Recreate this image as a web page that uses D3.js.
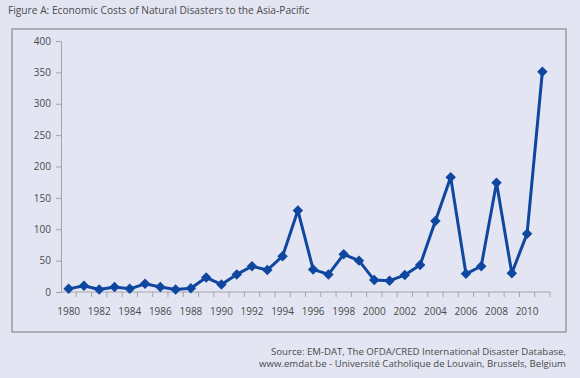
<!DOCTYPE html>
<meta charset="utf-8">
<head>
<style>
  body { margin: 0; background-color: #e3e5f2; font-family: 'Open Sans', sans-serif; }
  svg text { fill: #4a4a4a; }
</style>
</head>
<body>
<div id="chart"></div>
<script src="https://d3js.org/d3.v7.min.js"></script>
<script>

// data (US$ billion)
var years = [1980, 1981, 1982, 1983, 1984, 1985, 1986, 1987, 1988, 1989,
             1990, 1991, 1992, 1993, 1994, 1995, 1996, 1997, 1998, 1999,
             2000, 2001, 2002, 2003, 2004, 2005, 2006, 2007, 2008, 2009,
             2010, 2011];
var costs = [5, 10, 4, 8, 5, 13, 8, 4, 6, 23,
             12, 28, 41, 35, 57, 130, 36, 28, 60, 50,
             19, 18, 27, 43, 113, 183, 29, 41, 174, 30,
             93, 351];
var yTicks = [0, 50, 100, 150, 200, 250, 300, 350, 400];
var xLabels = [1980, 1982, 1984, 1986, 1988, 1990, 1992, 1994, 1996, 1998,
               2000, 2002, 2004, 2006, 2008, 2010];

var W = 580, H = 378;
var margin = {top: 41, right: 30, bottom: 86, left: 61},
  width = 550 - margin.left,
  height = 292 - margin.top;

var svg = d3.select("#chart")
  .append("svg")
    .attr("width", W)
    .attr("height", H);

// title
svg.append("text")
  .attr("x", 8)
  .attr("y", 14)
  .style("font-size", "10.2px")
  .text("Figure A: Economic Costs of Natural Disasters to the Asia-Pacific");

// frame
svg.append("rect")
  .attr("x", 12)
  .attr("y", 29)
  .attr("width", 554)
  .attr("height", 303)
  .attr("fill", "none")
  .attr("stroke", "#9a9ca3")
  .attr("stroke-width", 1.5);

var g = svg.append("g")
  .attr("transform", "translate(" + margin.left + "," + margin.top + ")");

var x = d3.scaleBand()
  .domain(years)
  .range([0, width]);

var y = d3.scaleLinear()
  .domain([0, 400])
  .range([height, 0]);

// y axis
var yAxis = g.append("g")
  .call(d3.axisLeft(y).tickValues(yTicks).tickSize(5).tickSizeOuter(0).tickPadding(5));
yAxis.selectAll("line, path").attr("stroke", "#a3a5ab");
yAxis.selectAll("text").style("font-size", "10px").style("font-family", "'Open Sans', sans-serif").attr("fill", "#4a4a4a");

// x axis: ticks at band edges, labels every two years
var xAxis = g.append("g")
  .attr("transform", "translate(0," + height + ")");
xAxis.append("line")
  .attr("x1", 0).attr("x2", width)
  .attr("stroke", "#a3a5ab").attr("stroke-width", 1.2);
xAxis.selectAll(".tk")
  .data(years)
  .enter().append("line")
    .attr("class", "tk")
    .attr("x1", function(d) { return x(d) + x.bandwidth(); })
    .attr("x2", function(d) { return x(d) + x.bandwidth(); })
    .attr("y1", 0).attr("y2", 5)
    .attr("stroke", "#a3a5ab");
xAxis.selectAll(".lb")
  .data(xLabels)
  .enter().append("text")
    .attr("class", "lb")
    .attr("x", function(d) { return x(d) + x.bandwidth() / 2; })
    .attr("y", 23)
    .attr("text-anchor", "middle")
    .style("font-size", "10px")
    .text(function(d) { return d; });

// line
var line = d3.line()
  .x(function(d, i) { return x(years[i]) + x.bandwidth() / 2; })
  .y(function(d) { return y(d); });

g.append("path")
  .datum(costs)
  .attr("d", line)
  .attr("fill", "none")
  .attr("stroke", "#0f47a0")
  .attr("stroke-width", 3)
  .attr("stroke-linejoin", "round");

g.selectAll(".pt")
  .data(costs)
  .enter().append("path")
    .attr("class", "pt")
    .attr("d", d3.symbol().type(d3.symbolDiamond2).size(70))
    .attr("transform", function(d, i) {
      return "translate(" + (x(years[i]) + x.bandwidth() / 2) + "," + y(d) + ")";
    })
    .attr("fill", "#0f47a0");

// source
svg.append("text")
  .attr("x", 566)
  .attr("y", 354.5)
  .attr("text-anchor", "end")
  .style("font-size", "9.6px")
  .text("Source: EM-DAT, The OFDA/CRED International Disaster Database,");
svg.append("text")
  .attr("x", 566)
  .attr("y", 367)
  .attr("text-anchor", "end")
  .style("font-size", "9.6px")
  .text("www.emdat.be - Université Catholique de Louvain, Brussels, Belgium");

</script>
</body>
